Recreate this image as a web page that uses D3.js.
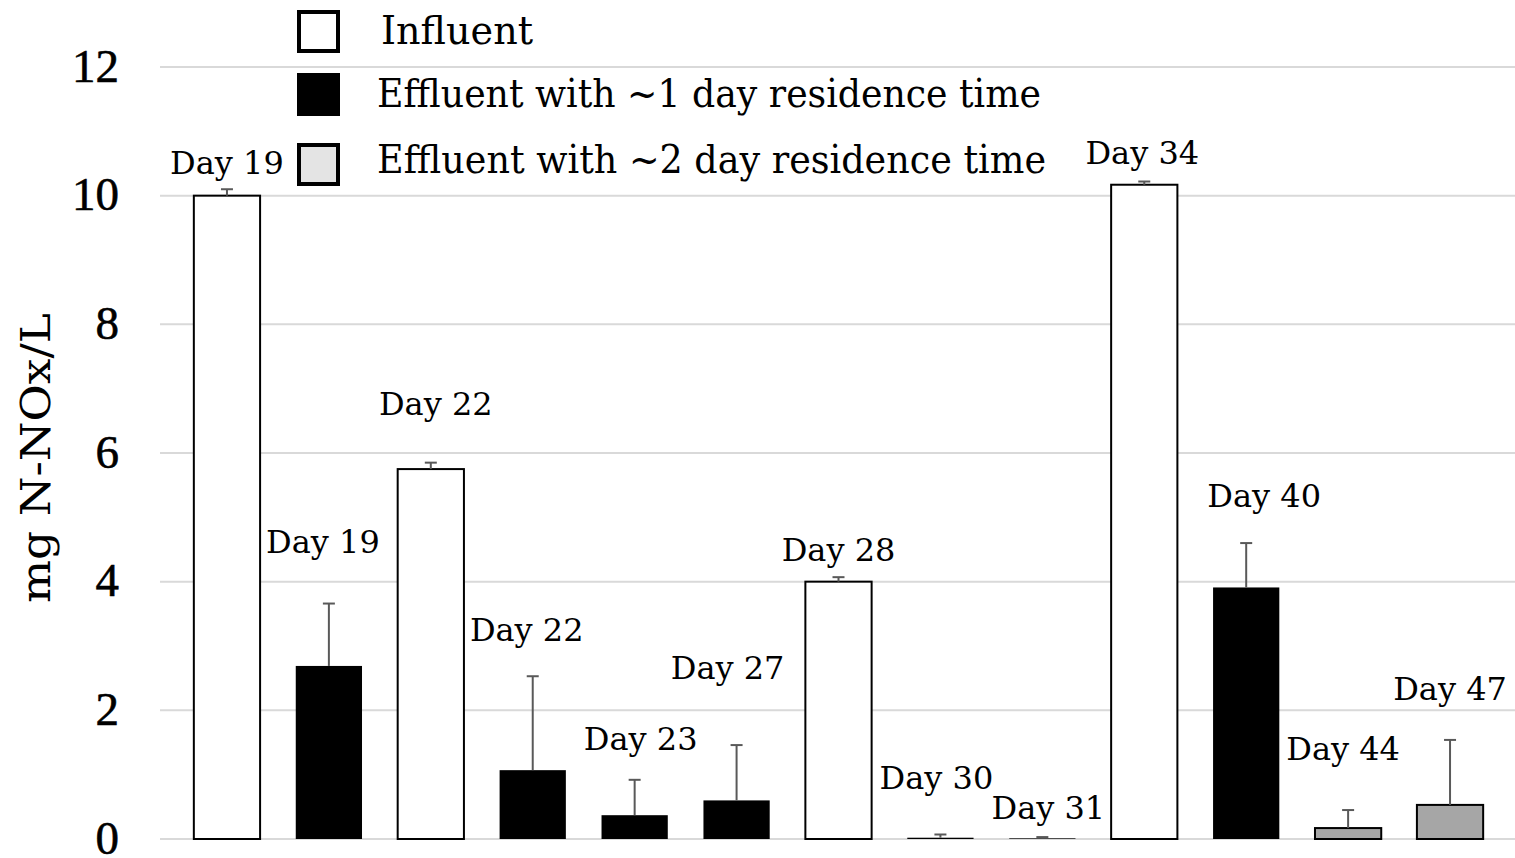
<!DOCTYPE html>
<html>
<head>
<meta charset="utf-8">
<script src="https://cdn.jsdelivr.net/npm/d3@7"></script>
<style>
  html, body { margin: 0; padding: 0; background: #fff; }
  svg { display: block; font-family: "DejaVu Serif", "Liberation Serif", serif; }
</style>
</head>
<body>
<svg id="chart" width="1515" height="858"></svg>
<script>
// Sampling days for each bar, left to right
const dayLabels = ["Day 19", "Day 19", "Day 22", "Day 22", "Day 23", "Day 27", "Day 28",
                   "Day 30", "Day 31", "Day 34", "Day 40", "Day 44", "Day 47"];
// Sample type of each bar: 0 = influent, 1 = ~1 day residence, 2 = ~2 day residence
const sampleType = [0, 1, 0, 1, 1, 1, 0, 1, 1, 0, 1, 2, 2];
// Mean N-NOx concentration (mg/L)
const meanValues = [10.0, 2.69, 5.75, 1.07, 0.37, 0.60, 4.00, 0.02, 0.01, 10.17, 3.91, 0.17, 0.53];
// Upper error (standard deviation, mg/L)
const errorValues = [0.10, 0.97, 0.10, 1.46, 0.55, 0.86, 0.07, 0.05, 0.02, 0.05, 0.69, 0.28, 1.01];
// Legend entries
const seriesNames = ["Influent", "Effluent with ~1 day residence time", "Effluent with ~2 day residence time"];
// Y-axis ticks
const yTicks = [0, 2, 4, 6, 8, 10, 12];

// Day-label placement: baseline height (in mg/L) and horizontal nudge (px)
const labelBaseline = [10.34, 4.45, 6.59, 3.08, 1.38, 2.49, 4.32, 0.78, 0.31, 10.49, 5.16, 1.23, 2.16];
const labelNudge = [0, -6, 5, -6, 6, -9, 0, -4, 6, -2, 18, -5, 0];
// Legend row layout: swatch top, text baseline and text run length (px)
const legendSwatchTop = [12, 75, 145];
const legendBaseline = [44, 107, 173];
const legendTextWidth = [152, 664, 669];

const fills = ["#ffffff", "#000000", "#a6a6a6"];
const legendFills = ["#ffffff", "#000000", "#e4e4e4"];

const svg = d3.select("#chart");

const x = d3.scaleBand()
  .domain(d3.range(meanValues.length))
  .range([176, 1501])
  .paddingInner(0.35)
  .paddingOuter(0.175);

const y = d3.scaleLinear().domain([0, 12]).range([839, 67]);

// Horizontal gridlines
svg.append("g")
  .selectAll("line")
  .data(yTicks)
  .join("line")
  .attr("x1", 160).attr("x2", 1515)
  .attr("y1", d => y(d)).attr("y2", d => y(d))
  .attr("stroke", "#d9d9d9").attr("stroke-width", 2);

// Y axis tick labels
const yAxis = svg.append("g")
  .attr("transform", "translate(119,0)")
  .call(d3.axisLeft(y).tickValues(yTicks).tickSize(0).tickPadding(0).tickFormat(d3.format("d")));
yAxis.select(".domain").remove();
yAxis.selectAll("text")
  .attr("font-family", "Liberation Serif, DejaVu Serif, serif")
  .attr("font-size", 47)
  .attr("fill", "#000")
  .attr("stroke", "#000")
  .attr("stroke-width", 0.6)
  .attr("dy", "0.3em");

// Y axis title
svg.append("text")
  .attr("transform", "translate(50,458) rotate(-90)")
  .attr("text-anchor", "middle")
  .attr("font-size", 41)
  .attr("textLength", 290)
  .attr("lengthAdjust", "spacingAndGlyphs")
  .attr("fill", "#000")
  .text("mg N-NOx/L");

// Bars
svg.append("g")
  .selectAll("rect")
  .data(meanValues)
  .join("rect")
  .attr("x", (d, i) => x(i))
  .attr("width", x.bandwidth())
  .attr("y", d => y(d))
  .attr("height", d => y(0) - y(d))
  .attr("fill", (d, i) => fills[sampleType[i]])
  .attr("stroke", (d, i) => sampleType[i] === 1 ? "none" : "#000")
  .attr("stroke-width", 2);

// Error bars (upper only)
const err = svg.append("g").attr("stroke", "#595959").attr("stroke-width", 2);
meanValues.forEach((v, i) => {
  const cx = x(i) + x.bandwidth() / 2;
  err.append("line")
    .attr("x1", cx).attr("x2", cx)
    .attr("y1", y(v)).attr("y2", y(v + errorValues[i]));
  err.append("line")
    .attr("x1", cx - 6).attr("x2", cx + 6)
    .attr("y1", y(v + errorValues[i])).attr("y2", y(v + errorValues[i]));
});

// Day labels
svg.append("g")
  .selectAll("text")
  .data(dayLabels)
  .join("text")
  .attr("x", (d, i) => x(i) + x.bandwidth() / 2 + labelNudge[i])
  .attr("y", (d, i) => y(labelBaseline[i]))
  .attr("text-anchor", "middle")
  .attr("font-size", 32)
  .attr("fill", "#000")
  .text(d => d);

// Legend
const legend = svg.append("g");
seriesNames.forEach((name, i) => {
  legend.append("rect")
    .attr("x", 299).attr("y", legendSwatchTop[i])
    .attr("width", 39).attr("height", 39)
    .attr("fill", legendFills[i])
    .attr("stroke", "#000").attr("stroke-width", 4);
  legend.append("text")
    .attr("x", i === 0 ? 381 : 377).attr("y", legendBaseline[i])
    .attr("font-size", 39)
    .attr("textLength", legendTextWidth[i])
    .attr("lengthAdjust", "spacingAndGlyphs")
    .attr("fill", "#000")
    .text(name);
});
</script>
</body>
</html>
